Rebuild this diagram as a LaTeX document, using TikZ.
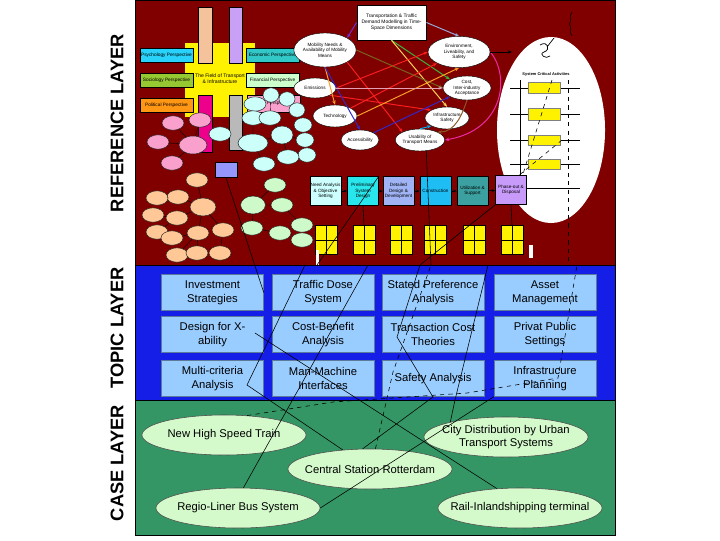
\documentclass[tikz,border=0pt]{standalone}
\usepackage{fontspec}
\setmainfont{Liberation Sans}
\usepackage{xcolor}
\usepackage{tikz}
\usetikzlibrary{shapes,shapes.geometric,arrows.meta,positioning,calc,decorations.pathreplacing}
\definecolor{refred}{RGB}{128,0,0}
\definecolor{topicblue}{RGB}{20,30,230}
\definecolor{casegreen}{RGB}{51,150,100}
\definecolor{boxblue}{RGB}{153,204,255}
\definecolor{caselight}{RGB}{212,250,204}
\definecolor{pinkb}{RGB}{250,160,205}
\definecolor{cyanb}{RGB}{205,255,250}
\definecolor{greenb}{RGB}{205,250,200}
\definecolor{peachb}{RGB}{255,200,150}
\definecolor{lavb}{RGB}{150,150,255}
\definecolor{psycol}{RGB}{40,210,250}
\definecolor{soccol}{RGB}{150,200,50}
\definecolor{polcol}{RGB}{255,150,20}
\definecolor{ecocol}{RGB}{50,200,200}
\definecolor{fincol}{RGB}{205,255,205}
\definecolor{peachbar}{RGB}{245,195,155}
\definecolor{lilacbar}{RGB}{200,160,245}
\definecolor{pnacol}{RGB}{205,255,255}
\definecolor{psdcol}{RGB}{40,230,235}
\definecolor{dddcol}{RGB}{160,180,245}
\definecolor{concol}{RGB}{30,190,245}
\definecolor{uascol}{RGB}{60,160,160}
\definecolor{podcol}{RGB}{200,155,250}
\definecolor{arrpurple}{RGB}{110,50,210}
\definecolor{arrsteel}{RGB}{150,170,220}
\definecolor{arrgreen}{RGB}{60,180,60}
\definecolor{arryellow}{RGB}{255,210,90}
\definecolor{arrred}{RGB}{250,30,30}
\definecolor{arrolive}{RGB}{120,100,30}
\definecolor{arrorange}{RGB}{250,160,40}
\definecolor{arrblue}{RGB}{50,40,200}
\definecolor{arrpink}{RGB}{230,160,180}
\definecolor{arrmag}{RGB}{240,40,170}
\definecolor{arrbrown}{RGB}{140,90,40}

\begin{document}
\begin{tikzpicture}[x=0.025cm, y=-0.025cm,
    layerlabel/.style={rotate=90, font=\bfseries\fontsize{13}{15}\selectfont},
    topicbox/.style={rectangle, fill=boxblue, draw=boxblue!60!black, line width=0.3pt, minimum width=2.55cm, minimum height=0.9cm, inner sep=1pt, align=center, font=\fontsize{8}{10}\selectfont},
    caseell/.style={ellipse, fill=caselight, draw=black!70, line width=0.4pt, minimum width=4.1cm, minimum height=1cm, inner xsep=-25pt, inner ysep=-2pt, align=center, font=\fontsize{8}{9.5}\selectfont},
    persp/.style={rectangle, draw=black, line width=0.3pt, minimum width=1.33cm, minimum height=0.36cm, inner sep=0.5pt, font=\fontsize{3.4}{4}\selectfont},
    wnode/.style={ellipse, fill=white, draw=black, line width=0.3pt, inner sep=0pt, align=center, font=\fontsize{3.3}{3.9}\selectfont},
    phasebox/.style={rectangle, draw=black, line width=0.4pt, minimum width=0.78cm, minimum height=0.73cm, inner sep=0.5pt, align=center, font=\fontsize{3.3}{3.9}\selectfont},
    ytab/.style={rectangle, fill=yellow, draw=black, line width=0.3pt, minimum width=0.55cm, minimum height=0.73cm,
        path picture={\draw[line width=0.2pt] (path picture bounding box.north) -- (path picture bounding box.south) (path picture bounding box.west) -- (path picture bounding box.east);}},
    sybox/.style={rectangle, fill=yellow, draw=black!50, line width=0.2pt, minimum width=0.8cm, minimum height=0.26cm},
    bub/.style={ellipse, draw=black!85, line width=0.35pt, inner sep=0pt, minimum width=0.55cm, minimum height=0.36cm},
    link/.style={black, line width=0.4pt},
    arr/.style={-{Stealth[length=3pt, width=2.4pt]}, line width=0.7pt},
    chain/.style={-{Stealth[length=2.5pt, width=2pt]}, line width=0.4pt}
]
\useasboundingbox (0,0) rectangle (720,540);

% the three layers
\draw[fill=refred, line width=0.4pt] (135,0) rectangle (615,265);
\draw[fill=topicblue, line width=0.4pt] (135,265) rectangle (615,400);
\draw[fill=casegreen, line width=0.4pt] (135,400) rectangle (615,535);
\node[layerlabel] (lref) at (117,123) {REFERENCE LAYER};
\node[layerlabel] (ltop) at (117,328) {TOPIC LAYER};
\node[layerlabel] (lcas) at (117,463) {CASE LAYER};

% field of transport cross
\fill[yellow] (185,43) rectangle (255,117);
\draw[fill=peachbar, line width=0.3pt] (198,7) rectangle (212,63);
\draw[fill=lilacbar, line width=0.3pt] (229,7) rectangle (242,63);
\draw[fill=magenta, line width=0.3pt] (198,95) rectangle (212,152);
\draw[fill=gray!55, line width=0.3pt] (229,95) rectangle (242,150);
\node[align=center, font=\fontsize{3.6}{4.3}\selectfont] (fld) at (220,79) {The Field of Transport\\\& Infrastructure};
\node[persp, fill=psycol] (psy) at (166.5,55) {Psychology Perspective};
\node[persp, fill=soccol] (soc) at (166.5,80.5) {Sociology Perspective};
\node[persp, fill=polcol] (pol) at (166.5,105) {Political Perspective};
\node[persp, fill=ecocol] (eco) at (272.5,55) {Economic Perspective};
\node[persp, fill=fincol] (fin) at (272.5,80) {Financial Perspective};
\node[persp, fill=pinkb, minimum height=0.42cm] (tpp) at (273.5,103.5) {\hspace{3mm}Perspective};

% bubbles
\node[bub, fill=pinkb] (p1) at (173,123) {};
\node[bub, fill=pinkb] (p2) at (200,120) {};
\node[bub, fill=pinkb] (p3) at (158,142) {};
\node[bub, fill=pinkb, minimum width=0.7cm, minimum height=0.45cm] (p4) at (193,145) {};
\node[bub, fill=pinkb] (p5) at (172,163) {};
\node[bub, fill=cyanb] (c1) at (255,104) {};
\node[bub, fill=cyanb, minimum width=0.4cm] (c2) at (271,95) {};
\node[bub, fill=cyanb, minimum width=0.4cm] (c3) at (287,99) {};
\node[bub, fill=cyanb, minimum width=0.4cm] (c4) at (297,110) {};
\node[bub, fill=cyanb] (c5) at (253,118) {};
\node[bub, fill=cyanb] (c6) at (270,118) {};
\node[bub, fill=cyanb, minimum width=0.45cm] (c7) at (303,125) {};
\node[bub, fill=cyanb, minimum width=0.75cm, minimum height=0.45cm] (c8) at (253,143) {};
\node[bub, fill=cyanb, minimum height=0.45cm] (c9) at (282,135) {};
\node[bub, fill=cyanb, minimum width=0.45cm] (c10) at (305,140) {};
\node[bub, fill=cyanb, minimum width=0.45cm] (c11) at (307,155) {};
\node[bub, fill=cyanb] (c12) at (288,157) {};
\node[bub, fill=cyanb] (c13) at (264,164) {};
\node[bub, fill=cyanb] (c14) at (220,134) {};
\node[rectangle, fill=lavb, draw=black, line width=0.3pt, minimum width=0.55cm, minimum height=0.38cm] (lav) at (226,170) {};
\node[bub, fill=greenb] (g1) at (275,185) {};
\node[bub, fill=greenb, minimum width=0.62cm, minimum height=0.45cm] (g2) at (253,205) {};
\node[bub, fill=greenb] (g3) at (282,205) {};
\node[bub, fill=greenb] (g4) at (252,228) {};
\node[bub, fill=greenb] (g5) at (280,233) {};
\node[bub, fill=greenb] (g6) at (302,225) {};
\node[bub, fill=greenb] (g7) at (302,240) {};
\node[bub, fill=peachb] (o1) at (197,180) {};
\node[bub, fill=peachb] (o2) at (178,197) {};
\node[bub, fill=peachb] (o3) at (157,198) {};
\node[bub, fill=peachb, minimum width=0.65cm, minimum height=0.45cm] (o4) at (203,207) {};
\node[bub, fill=peachb] (o5) at (153,215) {};
\node[bub, fill=peachb] (o6) at (177,218) {};
\node[bub, fill=peachb] (o7) at (157,232) {};
\node[bub, fill=peachb] (o8) at (172,238) {};
\node[bub, fill=peachb] (o9) at (198,233) {};
\node[bub, fill=peachb] (o10) at (223,230) {};
\node[bub, fill=peachb] (o11) at (177,255) {};
\node[bub, fill=peachb] (o12) at (197,253) {};
\node[bub, fill=peachb] (o13) at (220,253) {};
\draw[line width=0.25pt] (p4) -- (p1) (p4) -- (p2) (p4) -- (p3) (p4) -- (p5)
    (c8) -- (c5) (c8) -- (c9) (c8) -- (c13) (c9) -- (c6) (c9) -- (c12) (c9) -- (c10) (c6) -- (c2) (c2) -- (c3)
    (o4) -- (o1) (o4) -- (o2) (o4) -- (o6) (o4) -- (o9) (o4) -- (o10) (o2) -- (o3) (o6) -- (o5) (o6) -- (o7) (o9) -- (o8) (o9) -- (o12) (o9) -- (o11) (o10) -- (o13)
    (g2) -- (g1) (g2) -- (g3) (g2) -- (g4) (g4) -- (g5) (g3) -- (g6);

% central reference items
\node[rectangle, fill=white, draw=black, line width=0.3pt, minimum width=1.68cm, minimum height=0.88cm, align=center, font=\fontsize{3.5}{4.3}\selectfont] (tdm) at (391.5,22.5) {Transportation \& Traffic\\Demand Modelling in Time-\\Space Dimensions};
\node[wnode, minimum width=1.55cm, minimum height=0.85cm] (mob) at (325,50) {Mobility Needs \&\\Availability of Mobility\\Means};
\node[wnode, minimum width=1.55cm, minimum height=0.78cm] (env) at (459,52) {Environment,\\Liveability, and\\Safety};
\node[wnode, minimum width=1.2cm, minimum height=0.6cm] (cost) at (467,88) {Cost,\\Inter-industry\\Acceptance};
\node[wnode, minimum width=1.05cm, minimum height=0.5cm] (emi) at (315,88) {Emissions};
\node[wnode, minimum width=1.1cm, minimum height=0.55cm] (tec) at (335,116) {Technology};
\node[wnode, minimum width=1.1cm, minimum height=0.55cm] (ifs) at (447,118) {Infrastructure\\Safety};
\node[wnode, minimum width=0.95cm, minimum height=0.5cm] (acc) at (360,140) {Accessibility};
\node[wnode, minimum width=1.15cm, minimum height=0.55cm] (usa) at (420,140) {Usability of\\Transport Means};
\draw[arr, arrpurple] (tdm.west) -- (mob.north east);
\draw[arr, arrsteel] (tdm.east) -- (env.north);
\draw[arr, arrgreen] (tdm.south) -- (cost.north west);
\draw[arr, arryellow] (tdm.south) -- (ifs.north);
\draw[arr, arrred] (emi.east) -- (env.west);
\draw[arr, arrred] (tec.north east) -- (env.south west);
\draw[arr, arrred] (mob.south east) -- (usa.north west);
\draw[arr, arrred] (emi.south east) -- (ifs.north west);
\draw[arr, arrolive] (mob.east) -- (cost.west);
\draw[arr, arrorange] (mob.south) -- (tec.north);
\draw[arr, arrorange] (tec.east) -- (env.south);
\draw[arr, arrblue] (mob.south) -- (acc.north);
\draw[arr, arrpink] (emi.east) -- (cost.west);
\draw[arr, arrblue] (acc.north east) -- (cost.south west);
\draw[arr, arrmag] (env.east) .. controls (510,75) and (505,130) .. (usa.east);
\draw[arr, arrbrown] (cost.south) .. controls (462,115) and (455,132) .. (usa.north east);
\draw[arr, cyan] (usa.north) -- (ifs.south west);

% system critical activities
\node[ellipse, fill=white, minimum width=2.7cm, minimum height=4.65cm, inner sep=0pt] (sca) at (551,130) {};
\coordinate (envout) at (512,52);
\draw[arr, black] (env.east) -- (envout);
\draw[line width=0.5pt] (540,45) .. controls (548,40) and (551,50) .. (544,52) .. controls (538,54) and (546,60) .. (550,56) (547,47) -- (554,38);
\node[font=\bfseries\fontsize{2.8}{3}\selectfont] (scat) at (546,74) {System Critical Activities};
\draw[line width=0.3pt] (510,88) -- (580,88) (510,114) -- (580,114) (510,140) -- (580,140) (510,164) -- (580,164) (510,188) -- (580,188);
\draw[line width=0.4pt] (520,80) -- (520,175);
\draw[line width=0.4pt, dashed] (568,80) -- (568,262);
\node[sybox] (y1) at (544,87.5) {};
\node[sybox, minimum height=0.3cm] (y2) at (544,114) {};
\node[sybox] (y3) at (544,140) {};
\node[sybox] (y4) at (544,164) {};
\draw[line width=0.4pt, dashed] (552,80) -- (515,200) (562,140) -- (495,195);
\draw[decorate, decoration={brace, amplitude=2pt}, line width=0.4pt] (572,36) -- (572,12);

% life cycle chain
\node[phasebox, fill=pnacol] (pna) at (325.5,191) {Need Analysis\\\& Objective\\Setting};
\node[phasebox, fill=psdcol] (psd) at (363,191) {Preliminary\\System\\Design};
\node[phasebox, fill=dddcol] (ddd) at (398.5,191) {Detailed\\Design \&\\Development};
\node[phasebox, fill=concol] (con) at (435.5,191) {Construction};
\node[phasebox, fill=uascol] (uas) at (472.5,191) {Utilization \&\\Support};
\node[phasebox, fill=podcol] (pod) at (511,190) {Phase-out \&\\Disposal};
\draw[chain] (pna) -- (psd);
\draw[chain] (psd) -- (ddd);
\draw[chain] (ddd) -- (con);
\draw[chain] (con) -- (uas);
\draw[chain] (uas) -- (pod);
\node[ytab] (t1) at (326,240) {};
\node[ytab] (t2) at (364,240) {};
\node[ytab] (t3) at (401.5,240) {};
\node[ytab] (t4) at (435.5,240) {};
\node[ytab] (t5) at (474,240) {};
\node[ytab] (t6) at (512,240) {};
\draw[link] (psd.south) -- (t2.north);
\draw[link] (pod.south) -- (t6.north);
\fill[white] (316,250) rectangle (319,265);
\fill[white] (529,245) rectangle (533,258);

% topic layer
\node[topicbox] (is) at (212.5,292.5) {Investment\\Strategies};
\node[topicbox] (tds) at (323,292.5) {Traffic Dose\\System};
\node[topicbox] (spa) at (433,292.5) {Stated Preference\\Analysis};
\node[topicbox] (am) at (545,292.5) {Asset\\Management};
\node[topicbox] (dfx) at (212.5,334.5) {Design for X-\\ability};
\node[topicbox] (cba) at (323,334.5) {Cost-Benefit\\Analysis};
\node[topicbox] (tct) at (433,334.5) {Transaction Cost\\Theories};
\node[topicbox] (ppp) at (545,334.5) {Privat Public\\Settings};
\node[topicbox] (mca) at (212.5,378.5) {Multi-criteria\\Analysis};
\node[topicbox] (mmi) at (323,378.5) {Man-Machine\\Interfaces};
\node[topicbox] (sa) at (433,378.5) {Safety Analysis};
\node[topicbox] (ip) at (545,378.5) {Infrastrucure\\Planning};

% case layer
\node[caseell] (hst) at (224,435) {New High Speed Train};
\node[caseell] (cdu) at (506,437) {City Distribution by Urban\\Transport Systems};
\node[caseell] (csr) at (370,469) {Central Station Rotterdam};
\node[caseell] (rlb) at (238,508) {Regio-Liner Bus System};
\node[caseell] (rit) at (520,508) {Rail-Inlandshipping terminal};

% links between layers
\coordinate (c2) at (305,265);
\coordinate (k2) at (247,385);
\coordinate (k3) at (255,333);
\coordinate (c4) at (368,265);
\coordinate (k6) at (433,397);
\coordinate (k6b) at (397,337);
\coordinate (k6c) at (420,265);
\coordinate (k7) at (393,372);
\coordinate (c7) at (431,265);
\coordinate (k8) at (333,402);
\coordinate (k8b) at (467,393);
\coordinate (k8c) at (558,378);
\coordinate (c8) at (577,265);
\coordinate (k9) at (455,400);
\coordinate (c9) at (488,265);
\coordinate (k0) at (317,265);
\draw[link] (lav.south) -- (is.east);
\draw[link] (c2) -- (k2) -- (csr.145);
\draw[link] (k3) -- (rit.140);
\draw[link] (rlb.75) -- (c4);
\draw[link] (rlb.east) -- (ip.south west);
\draw[link] (csr.110) -- (k6) -- (k6b) -- (k6c) -- (pod.south west);
\draw[link, dashed] (csr.75) -- (k7) -- (c7);
\draw[link, dashed] (hst.40) -- (k8) -- (k8b) -- (k8c) -- (c8);
\draw[link] (cdu.165) -- (k9) -- (c9);
\draw[link] (k0) -- (psd.north east);
\draw[link] (usa.300) -- (c7);
\end{tikzpicture}
\end{document}
